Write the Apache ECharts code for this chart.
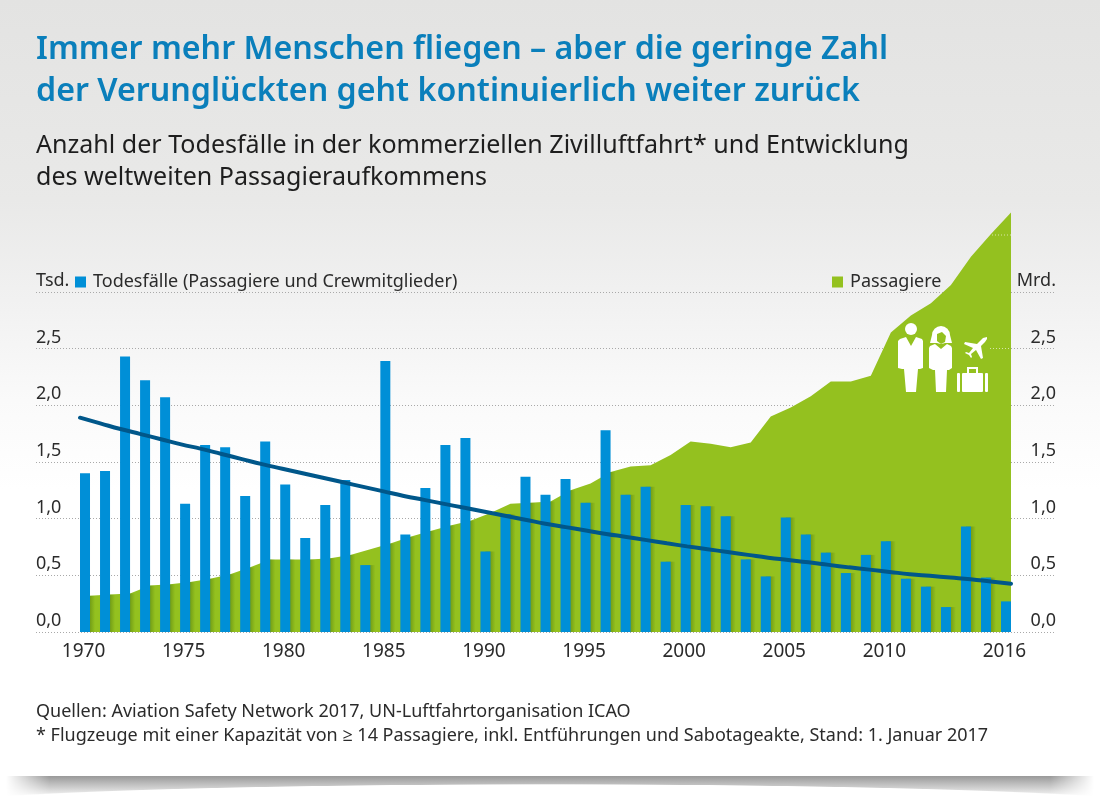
<!DOCTYPE html>
<html>
<head>
<meta charset="utf-8">
<script src="https://cdn.jsdelivr.net/npm/echarts@6/dist/echarts.min.js"></script>
<style>
html, body { margin: 0; padding: 0; background: #fff; }
#wrap { position: relative; width: 1100px; height: 800px; overflow: hidden; background: #fff; }
#panel { position: absolute; left: 0; top: 0; width: 1100px; height: 776px;
  background: linear-gradient(#e3e3e2 0, #e9e9e8 200px, #f1f1f1 300px, #fafafa 400px, #fff 490px); }
#shade { position: absolute; left: 6px; top: 776px; width: 1088px; height: 22px;
  background: radial-gradient(ellipse 640px 24px at 50% 32px, #fff 97%, rgba(255,255,255,0) 100%), linear-gradient(#999, #fff);
  -webkit-mask-image: linear-gradient(to right, transparent, #000 4%, #000 96%, transparent); }
#chart { position: absolute; left: 0; top: 0; width: 1100px; height: 800px; }
</style>
</head>
<body>
<div id="wrap">
  <div id="panel"></div>
  <div id="shade"></div>
  <div id="chart"></div>
</div>
<script>
var years = [1970,1971,1972,1973,1974,1975,1976,1977,1978,1979,1980,1981,1982,1983,1984,1985,1986,1987,1988,1989,1990,1991,1992,1993,1994,1995,1996,1997,1998,1999,2000,2001,2002,2003,2004,2005,2006,2007,2008,2009,2010,2011,2012,2013,2014,2015,2016];
var yearLabels = [1970,1975,1980,1985,1990,1995,2000,2005,2010,2016];

// Tsd.
var deaths = [1.40,1.42,2.43,2.22,2.07,1.13,1.65,1.63,1.20,1.68,1.30,0.83,1.12,1.34,0.59,2.39,0.86,1.27,1.65,1.71,0.71,1.04,1.37,1.21,1.35,1.14,1.78,1.21,1.28,0.62,1.12,1.11,1.02,0.64,0.49,1.01,0.86,0.70,0.52,0.68,0.80,0.47,0.40,0.22,0.93,0.48,0.27];
// Mrd.
var passengers = [0.32,0.33,0.34,0.41,0.42,0.44,0.47,0.51,0.57,0.64,0.64,0.64,0.65,0.68,0.73,0.78,0.84,0.89,0.94,0.98,1.05,1.13,1.14,1.15,1.25,1.31,1.41,1.46,1.47,1.56,1.68,1.66,1.63,1.67,1.90,1.98,2.08,2.21,2.21,2.26,2.64,2.79,2.90,3.06,3.31,3.51,3.70];
var trend = [1.89,1.84,1.79,1.745,1.70,1.655,1.615,1.57,1.525,1.48,1.44,1.40,1.36,1.32,1.28,1.24,1.20,1.165,1.13,1.095,1.06,1.025,0.99,0.955,0.925,0.895,0.865,0.838,0.81,0.782,0.755,0.73,0.705,0.68,0.655,0.635,0.615,0.592,0.57,0.55,0.53,0.51,0.495,0.48,0.465,0.445,0.425];

var title = ['Immer mehr Menschen fliegen – aber die geringe Zahl', 'der Verunglückten geht kontinuierlich weiter zurück'];
var subtitle = ['Anzahl der Todesfälle in der kommerziellen Zivilluftfahrt* und Entwicklung', 'des weltweiten Passagieraufkommens'];
var notes = ['Quellen: Aviation Safety Network 2017, UN-Luftfahrtorganisation ICAO', '* Flugzeuge mit einer Kapazität von ≥ 14 Passagiere, inkl. Entführungen und Sabotageakte, Stand: 1. Januar 2017'];

var FONT = '"Noto Sans", "Open Sans", sans-serif';
var BLUE = '#008fd7', GREEN = '#94c11f', DARK = '#00578a', TEXT = '#2b2b2b';

function tickLabel(unit) {
    return function (v) {
        if (v === 3.5) return '';
        if (v === 3) return unit;
        return v.toFixed(1).replace('.', ',');
    };
}
function text(str, y, size, color, weight) {
    return { type: 'text', z: 20, style: { text: str, x: 36, y: y, fill: color, fontFamily: FONT, fontSize: size, fontWeight: weight || 400, verticalAlign: 'middle' } };
}
function poly(points, color) {
    return { type: 'polygon', z: 20, shape: { points: points }, style: { fill: color || '#fff' } };
}
function box(x, y, w, h, color) {
    return { type: 'rect', z: 20, shape: { x: x, y: y, width: w, height: h, r: 1 }, style: { fill: color || '#fff' } };
}
function disc(cx, cy, r, color) {
    return { type: 'circle', z: 20, shape: { cx: cx, cy: cy, r: r }, style: { fill: color || '#fff' } };
}
function hiddenX(gridIndex, gap) {
    return { type: 'category', gridIndex: gridIndex, data: years, show: false, boundaryGap: gap };
}
function hiddenY(gridIndex) {
    return { type: 'value', gridIndex: gridIndex, min: 0, max: 3.75, show: false };
}
var dataTop = 206.75, dataBottom = 168;
var legendText = { fontSize: 18, color: TEXT, fontFamily: FONT, padding: [0, 0, 0, 2] };

var option = {
    animation: false,
    textStyle: { fontFamily: FONT },
    legend: [
        { left: 75, top: 273, padding: 0, itemWidth: 11, itemHeight: 11, icon: 'rect', data: ['Todesfälle (Passagiere und Crewmitglieder)'], textStyle: legendText },
        { left: 832, top: 273, padding: 0, itemWidth: 11, itemHeight: 11, icon: 'rect', data: ['Passagiere'], textStyle: legendText }
    ],
    grid: [
        { left: 36, right: 44, top: 235.1, bottom: dataBottom },   // Raster und Achsenbeschriftung
        { left: 75, right: 84, top: dataTop, bottom: dataBottom }, // Balken
        { left: 80, right: 79, top: dataTop, bottom: dataBottom }, // Fläche, 5px nach rechts versetzt
        { left: 80, right: 89, top: dataTop, bottom: dataBottom }  // Trendlinie
    ],
    xAxis: [
        { type: 'category', gridIndex: 0, data: years, show: false },
        {
            type: 'category', gridIndex: 1, data: years,
            axisLine: { show: false }, axisTick: { show: false },
            axisLabel: {
                margin: 10, fontSize: 19, color: TEXT, fontFamily: FONT, padding: [0, 3, 0, 0],
                interval: function (i, v) { return yearLabels.indexOf(+v) >= 0; }
            }
        },
        hiddenX(2, true),
        hiddenX(3, false)
    ],
    yAxis: [
        {
            type: 'value', gridIndex: 0, min: 0, max: 3.5, interval: 0.5, position: 'left',
            axisLine: { show: false }, axisTick: { show: false },
            splitLine: { show: true, showMaxLine: false, lineStyle: { color: '#a9a9a9', type: [1, 2], width: 1 } },
            axisLabel: { inside: true, margin: 0, fontSize: 18, color: TEXT, fontFamily: FONT, verticalAlign: 'bottom', align: 'left', padding: [0, 0, 2, 0], formatter: tickLabel('Tsd.') }
        },
        {
            type: 'value', gridIndex: 0, min: 0, max: 3.5, interval: 0.5, position: 'right',
            axisLine: { show: false }, axisTick: { show: false }, splitLine: { show: false },
            axisLabel: { inside: true, margin: 0, fontSize: 18, color: TEXT, fontFamily: FONT, verticalAlign: 'bottom', align: 'right', padding: [0, 0, 2, 0], formatter: tickLabel('Mrd.') }
        },
        hiddenY(1), hiddenY(2), hiddenY(3)
    ],
    series: [
        {
            name: 'Passagiere', type: 'line', xAxisIndex: 2, yAxisIndex: 3, data: passengers, z: 3,
            symbol: 'none', clip: false,
            lineStyle: { width: 0 }, itemStyle: { color: GREEN }, areaStyle: { color: GREEN, opacity: 1 }
        },
        {
            // leichter Schlagschatten rechts neben den Balken, nur auf der Fläche
            type: 'bar', xAxisIndex: 2, yAxisIndex: 3, z: 4, barWidth: 10, silent: true,
            data: deaths.map(function (v, i) { return i < deaths.length - 1 ? Math.min(v, passengers[i]) : null; }),
            itemStyle: { color: { type: 'linear', x: 0, y: 0, x2: 1, y2: 0, colorStops: [
                { offset: 0, color: 'rgba(70,110,10,0.42)' },
                { offset: 0.5, color: 'rgba(70,110,10,0.42)' },
                { offset: 1, color: 'rgba(70,110,10,0)' }
            ] } }
        },
        {
            name: 'Todesfälle (Passagiere und Crewmitglieder)', type: 'bar', xAxisIndex: 1, yAxisIndex: 2, data: deaths, z: 5,
            barWidth: 10, itemStyle: { color: BLUE }
        },
        {
            type: 'line', xAxisIndex: 3, yAxisIndex: 4, data: trend, z: 6, smooth: true, symbol: 'none',
            lineStyle: { color: DARK, width: 4, cap: 'round' }
        }
    ],
    graphic: [
        text(title[0], 50, 32.2, '#0a7fbb', 600),
        text(title[1], 92, 32.2, '#0a7fbb', 600),
        text(subtitle[0], 146, 25.05, '#1e1e1e'),
        text(subtitle[1], 178, 25.05, '#1e1e1e'),
        text(notes[0], 712, 18, TEXT),
        text(notes[1], 736, 18, TEXT),
        // helle Rasterreste auf der Fläche
        { type: 'line', z: 20, shape: { x1: 992, y1: 235, x2: 1011, y2: 235 }, style: { stroke: '#d8e6a8', lineDash: [1, 2] } },
        { type: 'line', z: 20, shape: { x1: 990, y1: 348.5, x2: 1011, y2: 348.5 }, style: { stroke: '#d8e6a8', lineDash: [1, 2] } },
        // Mann
        disc(911, 329, 6),
        poly([[900,339],[906,337],[911,346],[916,337],[922,339],[923,341],[923,368],[920,369],[918,369],[916,392],[906,392],[904,369],[902,369],[898,368],[898,341]]),
        // Frau
        disc(941, 335, 9),
        poly([[932,335],[950,335],[952,343],[930,343]]),
        poly([[937,334],[942,332],[946,336],[945,342],[941,344],[937,341]], GREEN),
        poly([[935,344],[941,349],[947,344],[951,346],[952,348],[952,368],[949,370],[947,370],[946,392],[936,392],[935,370],[933,370],[929,368],[929,348],[930,346]]),
        // Flugzeug
        poly([[987,337],[983,338],[981,340],[977,344],[965,342],[964,344],[973,348],[969,353],[966,352],[965,353],[969,355],[971,358],[972,357],[971,354],[976,350],[981,359],[983,358],[981,346],[985,342],[987,339]]),
        // Koffer
        box(957, 373, 3, 19),
        box(962, 373, 21, 19),
        box(985, 373, 3, 19),
        poly([[967,373],[967,367],[978,367],[978,373],[976,373],[976,369],[969,369],[969,373]])
    ]
};

var chart = echarts.init(document.getElementById('chart'), null, { renderer: 'canvas' });
chart.setOption(option);
</script>
</body>
</html>
